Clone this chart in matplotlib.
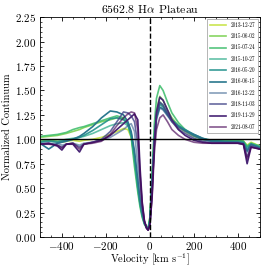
import matplotlib
matplotlib.use('Agg')
import matplotlib.pyplot as plt
from matplotlib.ticker import MultipleLocator
import numpy as np

plt.rcParams['font.family'] = 'serif'
plt.rcParams['font.serif'] = ['cmr10']
plt.rcParams['mathtext.fontset'] = 'cm'
plt.rcParams['axes.formatter.use_mathtext'] = True

# velocity grid [km/s]
vel = [-500, -460, -420, -400, -380, -350, -320, -300, -260, -220,
       -180, -150, -120, -100, -85, -70, -55, -45, -35, -25,
       -15, -8, 0, 10, 20, 30, 45, 60, 80, 100,
       130, 160, 200, 240, 280, 340, 400, 425, 442, 460, 500]

dates = ['2013-12-27', '2015-06-02', '2015-07-24', '2015-10-27', '2016-05-20',
         '2016-06-15', '2016-12-22', '2018-11-03', '2019-11-29', '2021-08-07']

f_20131227 = [0.98, 0.99, 0.98, 0.97, 0.98, 0.99, 0.98, 0.99, 1.00, 1.02,
              1.05, 1.08, 1.11, 1.10, 1.02, 0.80, 0.52, 0.36, 0.24, 0.15,
              0.10, 0.09, 0.18, 0.55, 1.00, 1.25, 1.38, 1.34, 1.26, 1.19,
              1.12, 1.08, 1.03, 1.00, 0.99, 0.98, 0.99, 0.98, 0.94, 0.97, 0.93]
f_20150602 = [1.02, 1.03, 1.04, 1.05, 1.06, 1.08, 1.10, 1.12, 1.15, 1.18,
              1.20, 1.22, 1.21, 1.16, 1.05, 0.78, 0.50, 0.34, 0.22, 0.14,
              0.10, 0.09, 0.20, 0.60, 1.05, 1.30, 1.44, 1.40, 1.30, 1.22,
              1.14, 1.09, 1.04, 1.00, 0.99, 0.98, 0.99, 0.98, 0.93, 0.96, 0.93]
f_20150724 = [1.03, 1.04, 1.05, 1.06, 1.07, 1.10, 1.12, 1.13, 1.16, 1.19,
              1.22, 1.24, 1.22, 1.16, 1.02, 0.72, 0.46, 0.31, 0.20, 0.13,
              0.09, 0.08, 0.20, 0.65, 1.15, 1.42, 1.55, 1.50, 1.38, 1.27,
              1.17, 1.10, 1.04, 1.00, 0.99, 0.98, 0.99, 0.98, 0.93, 0.96, 0.93]
f_20151027 = [0.98, 0.99, 0.98, 0.99, 1.00, 1.01, 1.02, 1.03, 1.06, 1.10,
              1.14, 1.16, 1.17, 1.14, 1.04, 0.80, 0.50, 0.34, 0.22, 0.14,
              0.10, 0.09, 0.18, 0.58, 1.02, 1.27, 1.38, 1.35, 1.27, 1.20,
              1.13, 1.09, 1.04, 1.00, 0.98, 0.98, 0.98, 0.97, 0.92, 0.95, 0.92]
f_20160520 = [0.97, 0.98, 0.97, 0.98, 0.99, 1.00, 1.02, 1.04, 1.09, 1.15,
              1.21, 1.22, 1.20, 1.16, 1.06, 0.84, 0.54, 0.36, 0.23, 0.14,
              0.10, 0.08, 0.17, 0.56, 1.00, 1.25, 1.36, 1.33, 1.26, 1.20,
              1.14, 1.10, 1.05, 1.01, 0.99, 0.98, 0.97, 0.97, 0.90, 0.95, 0.92]
f_20160615 = [0.96, 0.90, 0.96, 0.97, 0.98, 1.00, 1.03, 1.06, 1.13, 1.22,
              1.29, 1.28, 1.25, 1.18, 1.08, 0.88, 0.58, 0.38, 0.24, 0.15,
              0.10, 0.08, 0.16, 0.52, 0.98, 1.22, 1.33, 1.31, 1.25, 1.19,
              1.13, 1.09, 1.05, 1.01, 0.98, 0.97, 0.97, 0.96, 0.88, 0.95, 0.91]
f_20161222 = [0.96, 0.95, 0.96, 0.94, 0.95, 0.96, 0.94, 0.96, 0.97, 0.99,
              1.02, 1.06, 1.10, 1.14, 1.16, 1.08, 0.72, 0.45, 0.27, 0.15,
              0.10, 0.08, 0.15, 0.50, 0.95, 1.20, 1.32, 1.30, 1.24, 1.18,
              1.12, 1.08, 1.03, 1.00, 0.97, 0.97, 0.97, 0.96, 0.87, 0.94, 0.91]
f_20181103 = [0.95, 0.96, 0.94, 0.92, 0.95, 0.96, 0.92, 0.95, 0.97, 1.00,
              1.08, 1.18, 1.28, 1.27, 1.24, 1.18, 0.95, 0.60, 0.32, 0.16,
              0.09, 0.07, 0.13, 0.45, 0.95, 1.25, 1.38, 1.35, 1.26, 1.18,
              1.10, 1.06, 1.01, 0.98, 0.96, 0.96, 0.96, 0.95, 0.82, 0.93, 0.90]
f_20191129 = [0.95, 0.96, 0.93, 0.89, 0.95, 0.95, 0.87, 0.95, 0.97, 0.99,
              1.04, 1.10, 1.16, 1.20, 1.23, 1.26, 1.20, 0.72, 0.36, 0.17,
              0.09, 0.07, 0.12, 0.42, 0.95, 1.28, 1.43, 1.40, 1.30, 1.20,
              1.10, 1.04, 0.99, 0.97, 0.96, 0.96, 0.96, 0.95, 0.75, 0.92, 0.90]
f_20210807 = [0.95, 0.95, 0.94, 0.91, 0.95, 0.96, 0.90, 0.95, 0.96, 0.98,
              1.05, 1.14, 1.22, 1.26, 1.28, 1.27, 1.10, 0.65, 0.34, 0.16,
              0.09, 0.07, 0.12, 0.40, 0.85, 1.10, 1.22, 1.25, 1.18, 1.10,
              1.04, 1.00, 0.97, 0.96, 0.96, 0.96, 0.96, 0.95, 0.80, 0.92, 0.90]

fluxes = [f_20131227, f_20150602, f_20150724, f_20151027, f_20160520,
          f_20160615, f_20161222, f_20181103, f_20191129, f_20210807]
alphas = [0.8, 0.9, 0.9, 0.7, 0.9, 1.0, 0.6, 0.8, 1.0, 0.65]
colors = plt.cm.viridis(np.linspace(0.9, 0.0, len(dates)))

fig = plt.figure(figsize=(2.66, 2.69), dpi=100)
ax = fig.add_axes([0.150, 0.119, 0.827, 0.817])

for d, f, c, a in zip(dates, fluxes, colors, alphas):
    ax.plot(vel, f, color=c, alpha=a, lw=1.2, label=d)

ax.axhline(1.0, color='black', lw=1.0)
ax.axvline(0, color='black', lw=1.0, ls='--')

ax.set_xlim(-500, 500)
ax.set_ylim(0, 2.25)
ax.xaxis.set_major_locator(MultipleLocator(200))
ax.xaxis.set_minor_locator(MultipleLocator(50))
ax.yaxis.set_major_locator(MultipleLocator(0.25))
ax.yaxis.set_minor_locator(MultipleLocator(0.05))
ax.tick_params(which='both', direction='in', top=True, right=True, labelsize=8)
ax.tick_params(which='major', length=3, width=0.6, pad=2.5)
ax.tick_params(which='minor', length=1.5, width=0.5)
for s in ax.spines.values():
    s.set_linewidth(0.6)

ax.set_xlabel(r'Velocity [km s$^{-1}$]', fontsize=7.5, labelpad=0)
ax.set_ylabel('Normalized Continuum', fontsize=7.5, labelpad=2)
ax.set_title(r'6562.8 H$\alpha$ Plateau', fontsize=8.5, pad=3)

leg = ax.legend(loc='upper right', fontsize=3.8, fancybox=False, framealpha=1,
                edgecolor='0.6', handlelength=3, borderpad=0.6, labelspacing=1.05,
                borderaxespad=0.3)
leg.get_frame().set_linewidth(0.5)

fig.savefig('out.png', dpi=100)
